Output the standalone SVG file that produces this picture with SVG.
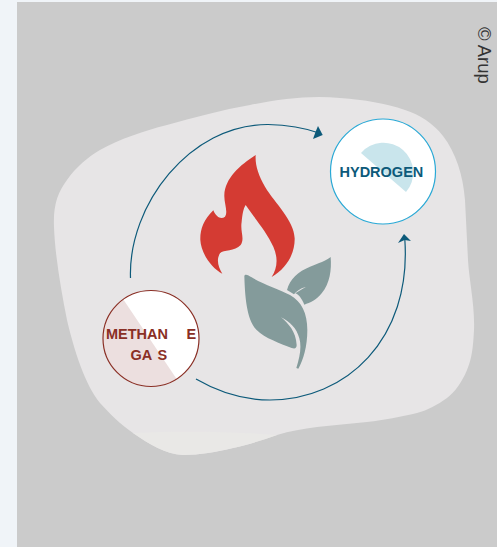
<svg xmlns="http://www.w3.org/2000/svg" width="497" height="547" viewBox="0 0 497 547">
<style>
.lbl{font-family:"Liberation Sans",Arial,sans-serif;font-weight:700;font-size:14.5px}
.m{fill:#8a2f25}.h{fill:#0d5a7a}
.conn{fill:none;stroke:#0d5a7a;stroke-width:1.2}
.head{fill:#0d5a7a}
</style>
<defs><clipPath id="mc"><circle cx="151" cy="338.500" r="48"/></clipPath></defs>
<rect width="497" height="547" fill="#f0f4f8"/>
<rect x="17" y="2" width="480" height="545" fill="#cbcbcb"/>
<text transform="translate(478,27) rotate(90)" font-family="Liberation Sans,Arial,sans-serif" font-size="18.500" fill="#333">© Arup</text>
<g id="backdrop">
<path d="M54,227 C53,205 58,192 67,180 C76,167 88,157 100,150 C120,139 143,131 167,125 C195,117 222,110 250,105 C280,99 310,95 340,98 C365,100 385,103 405,110 C420,115 433,123 443,136 C456,153 463,175 465,200 C466,220 467,240 468,260 C469,280 475,305 474,330 C473,348 472,358 467,370 C462,382 455,392 447,398 C437,405 428,410 417,413 C400,417 385,420 367,422 C350,424 333,425 317,427 C303,429 290,431 277,435 C262,440 248,445 233,448 C216,452 200,455 183,455 C165,454 149,444 133,433 C120,424 110,414 100,403 C85,385 74,350 67,320 C61,290 55,255 54,227 Z" fill="#e7e5e6"/>
<path d="M133,433 C175,431 225,431 277,435 C262,440 248,445 233,448 C216,452 200,455 183,455 C165,454 149,444 133,433 Z" fill="#e9e8e6"/>
</g>
<g id="connectors">
<path class="conn" d="M130.500,278 C128,205 190,124 268,124.500 C288,125 305,128 319,133"/>
<path class="head" d="M322.700,135 L318,126 L315.500,132 L313,139 Z"/>
<path class="conn" d="M196,379 C220,393 245,400 270,400 C345,400 412,340 404.800,239"/>
<path class="head" d="M404,234 L411,241 L404.600,240 L398,243 Z"/>
</g>
<g id="flame" transform="translate(190,150) scale(.33333)">
<path fill="#d43b33" d="M197,15 C150,45 105,85 103,135 C102,160 115,185 105,200 C95,208 80,205 70,181 C40,210 30,240 31,270 C33,310 65,355 97,371 C85,350 78,330 90,310 C100,298 135,305 152,285 C165,265 150,245 155,215 C157,195 160,175 167,165 C190,200 230,245 250,290 C265,325 262,355 245,381 C290,355 315,310 314,265 C312,210 255,160 225,110 C205,75 195,45 197,15 Z"/>
</g>
<g id="leaves" transform="translate(190,150) scale(.33333)" fill="#849b9b">
<path d="M163,378 C165,370 175,375 185,382 C215,400 270,420 300,435 C335,455 352,490 352,540 C352,590 340,630 325,656 L319,654 C330,620 335,590 328,565 C320,535 300,515 273,502 C295,520 318,545 320,585 C320,595 315,597 305,594 C270,580 225,565 200,540 C170,510 165,440 163,378 Z"/>
<path d="M422,321 C425,360 420,400 395,430 C380,450 360,458 343,464 C335,445 325,432 316,430 L347,411 C330,415 318,425 312,433 L291,420 C300,385 325,365 360,350 C385,340 410,332 422,321 Z"/>
</g>
<g id="methane-gas">
<circle cx="151" cy="338.500" r="48" fill="#fff"/>
<polygon points="117,290 180,384 100,395 95,290" fill="#ecdfdf" clip-path="url(#mc)"/>
<circle cx="151" cy="338.500" r="48" fill="none" stroke="#8a2f25" stroke-width="1.2"/>
<text class="lbl m" x="106" y="339">METHAN</text>
<text class="lbl m" x="186.500" y="339">E</text>
<text class="lbl m" x="130.500" y="360">GA</text>
<text class="lbl m" x="157.500" y="360">S</text>
</g>
<g id="hydrogen">
<circle cx="383" cy="171.500" r="52.500" fill="#fff" stroke="#29a9d6" stroke-width="1.200"/>
<path d="M361,153 A29.500,29.500 0 0 1 406,192 Z" fill="#c9e5ec"/>
<text class="lbl h" x="339.500" y="177">HYDROGEN</text>
</g>
</svg>
